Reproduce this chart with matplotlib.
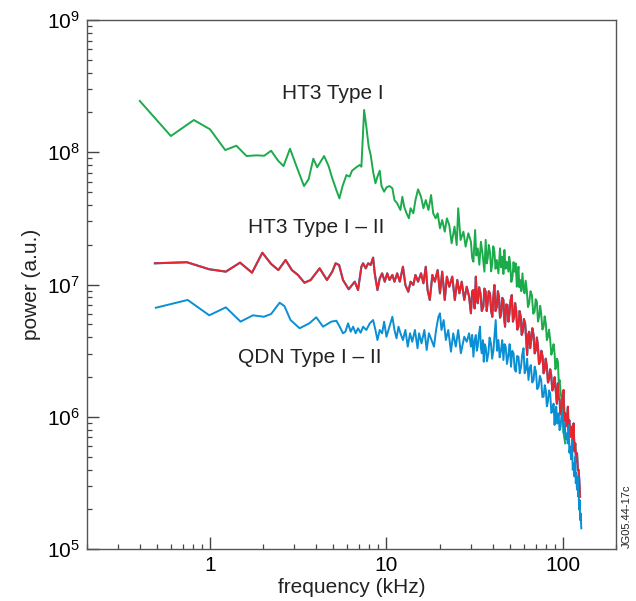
import numpy as np
import matplotlib
matplotlib.use("Agg")
import matplotlib.pyplot as plt
from matplotlib.ticker import LogLocator, NullFormatter

plt.rcParams['font.family'] = ['Liberation Sans', 'DejaVu Sans']
plt.rcParams['mathtext.default'] = 'regular'

# HT3 Type I (green)
ht3_f = [0.40, 0.60, 0.81, 1.00, 1.22, 1.41, 1.61, 1.83, 2.03, 2.22, 2.43, 2.61, 2.84, 3.12, 3.41,
         3.62, 3.85, 4.05, 4.43, 4.70, 4.91, 5.20, 5.41, 5.64, 5.93, 6.18, 6.38, 6.75, 7.05, 7.21,
         7.47, 7.69, 7.93, 8.14, 8.40, 8.66, 8.89, 9.16, 9.37, 9.70, 10.0, 10.4, 10.8, 11.1, 11.5,
         12.0, 12.3, 12.6, 13.0, 13.4, 13.7, 14.2, 14.6, 15.1, 15.7, 16.2, 16.7, 17.3, 17.9, 18.4,
         19.0, 19.5, 20.1, 20.7, 21.4, 22.0, 22.7, 23.4, 24.3, 25.0, 25.5, 26.3, 27.3, 28.1, 29.1,
         30.1, 30.6, 31.1, 31.8, 32.3, 32.9, 33.6, 34.3, 35.0, 35.9, 36.5, 37.0, 37.5, 38.0, 38.6,
         39.2, 39.8, 40.3, 40.9, 41.5, 42.2, 43.1, 44.0, 44.7, 45.4, 46.0, 46.6, 47.3, 48.1, 49.1,
         49.6, 50.1, 51.0, 51.8, 52.5, 53.2, 54.0, 54.8, 55.4, 56.0, 56.6, 57.2, 58.1, 59.0, 59.8,
         60.6, 61.5, 62.4, 63.4, 64.4, 65.5, 66.7, 67.9, 69.1, 70.1, 71.2, 72.2, 73.3, 74.3, 75.3,
         76.5, 77.7, 78.8, 80.0, 81.1, 82.2, 83.4, 84.7, 86.0, 87.4, 88.5, 89.7, 90.6, 91.6, 92.6,
         93.7, 94.8, 95.8, 96.8, 97.8, 98.7, 99.6, 100.3, 100.9, 103.0]
ht3_logp = [8.388, 8.123, 8.244, 8.174, 8.017, 8.050, 7.972, 7.977, 7.974, 8.012, 7.937, 7.896, 8.027, 7.879, 7.745,
            7.796, 7.952, 7.887, 7.972, 7.896, 7.811, 7.715, 7.652, 7.745, 7.828, 7.816, 7.861, 7.887, 7.904, 7.891,
            8.320, 8.194, 8.042, 7.980, 7.853, 7.766, 7.816, 7.861, 7.745, 7.702, 7.735, 7.745, 7.728, 7.639, 7.614,
            7.564, 7.664, 7.589, 7.539, 7.501, 7.577, 7.539, 7.639, 7.720, 7.664, 7.577, 7.639, 7.564, 7.677, 7.539,
            7.501, 7.539, 7.426, 7.488, 7.400, 7.501, 7.450, 7.312, 7.438, 7.299, 7.577, 7.337, 7.400, 7.287, 7.388,
            7.324, 7.200, 7.173, 7.413, 7.220, 7.274, 7.150, 7.324, 7.237, 7.098, 7.338, 7.160, 7.199, 7.300, 7.249,
            7.100, 7.161, 7.290, 7.249, 7.120, 7.186, 7.085, 7.274, 7.130, 7.211, 7.080, 7.262, 7.120, 7.173, 7.098,
            7.210, 7.173, 7.020, 7.060, 7.170, 7.098, 7.160, 6.984, 7.080, 7.135, 6.980, 7.035, 6.950, 7.085, 6.970,
            6.934, 7.030, 6.959, 6.830, 6.859, 6.950, 6.921, 6.780, 6.795, 6.890, 6.871, 6.720, 6.757, 6.840, 6.783,
            6.660, 6.682, 6.760, 6.707, 6.580, 6.606, 6.660, 6.581, 6.470, 6.506, 6.550, 6.481, 6.360, 6.380, 6.440,
            6.418, 6.250, 6.279, 6.200, 6.153, 6.090, 6.027, 5.950, 5.876, 5.800]

# HT3 Type I - II (red)
ht3_12_f = [0.487, 0.74, 0.99, 1.23, 1.48, 1.73, 1.98, 2.22, 2.44, 2.68, 2.91, 3.15, 3.43, 3.72, 4.18,
            4.60, 4.93, 5.15, 5.39, 5.67, 6.11, 6.61, 6.90, 7.21, 7.37, 7.63, 7.87, 8.14, 8.40, 8.58,
            8.89, 9.16, 9.45, 9.78, 10.1, 10.4, 10.8, 11.1, 11.5, 11.9, 12.4, 12.8, 13.3, 13.7, 14.2,
            14.6, 15.1, 15.7, 16.2, 16.7, 17.1, 17.6, 18.2, 18.8, 19.5, 20.1, 20.7, 21.4, 22.0, 22.7,
            23.6, 24.4, 25.2, 25.9, 26.7, 27.6, 28.5, 29.4,
            30.1, 30.6, 31.1, 31.6, 32.1, 32.5, 32.9, 33.5, 34.1, 34.7, 35.4, 35.9, 36.5, 37.0, 37.5,
            38.0, 38.6, 39.2, 39.8, 40.3, 40.9, 41.5, 42.2, 42.8, 43.4, 44.0, 44.6, 45.3, 46.0, 46.5,
            47.0, 47.7, 48.5, 49.1, 49.8, 50.5, 51.3, 52.1, 52.9, 53.6, 54.3, 55.1, 56.0, 56.8, 57.7,
            58.4, 59.2, 60.1, 61.1, 61.9, 62.7, 63.5, 64.4, 65.2, 66.1, 67.1, 68.2, 69.2, 70.3, 71.2,
            72.1, 73.2, 74.3, 75.5, 76.7, 77.7, 78.7, 79.9, 81.1, 82.3, 83.6, 84.7, 85.8, 87.1, 88.5,
            89.8, 91.2, 92.4, 93.7, 94.7, 95.8, 96.8, 97.8, 99.3, 100.9, 102.0, 103.1, 104.9, 106.7, 107.6,
            108.6, 110.5, 112.5, 113.7, 115.0, 116.2, 117.5, 118.8, 120.2, 121.6, 122.7, 123.8, 125.0]
ht3_12_logp = [7.161, 7.169, 7.116, 7.098, 7.166, 7.090, 7.241, 7.156, 7.110, 7.186, 7.110, 7.073, 7.014, 7.035, 7.123,
               7.035, 7.098, 7.161, 7.148, 7.035, 6.965, 7.022, 6.959, 7.135, 7.161, 7.123, 7.161, 7.148, 7.204, 7.085,
               6.959, 7.047, 7.085, 7.022, 7.085, 7.035, 7.073, 7.022, 7.085, 7.022, 7.135, 6.997, 6.946, 7.022, 6.997,
               7.073, 7.022, 7.085, 7.010, 7.135, 6.959, 6.884, 7.073, 7.022, 7.110, 6.934, 7.098, 6.884, 7.060, 6.984,
               7.060, 6.884, 7.035, 6.934, 7.022, 6.884, 6.984, 6.908,
               6.783, 6.950, 6.959, 6.820, 7.060, 6.900, 6.859, 6.980, 6.934, 6.800, 6.833, 6.970, 6.946, 6.800, 6.871,
               6.950, 6.934, 6.800, 6.757, 6.900, 6.997, 6.800, 6.833, 6.950, 6.908, 6.750, 6.770, 6.900, 6.884, 6.740,
               6.682, 6.850, 6.846, 6.720, 6.783, 6.880, 6.921, 6.720, 6.757, 6.860, 6.808, 6.660, 6.682, 6.800, 6.757,
               6.620, 6.644, 6.740, 6.707, 6.580, 6.468, 6.620, 6.644, 6.520, 6.581, 6.670, 6.619, 6.480, 6.506, 6.600,
               6.543, 6.400, 6.417, 6.500, 6.455, 6.330, 6.354, 6.440, 6.379, 6.260, 6.292, 6.360, 6.317, 6.200, 6.228,
               6.300, 6.190, 6.100, 6.254, 6.140, 6.128, 6.020, 6.052, 6.120, 6.203, 5.970, 6.027, 5.930, 6.077, 5.900,
               5.977, 5.850, 5.926, 5.820, 5.951, 5.740, 5.800, 5.660, 5.725, 5.599, 5.600, 5.523, 5.397]

# QDN Type I - II (blue)
qdn_f = [0.493, 0.747, 0.99, 1.23, 1.49, 1.75, 2.02, 2.22, 2.48, 2.64, 2.86, 3.22, 3.66, 4.00, 4.37,
         4.87, 5.20, 5.43, 5.67, 5.85, 6.06, 6.27, 6.47, 6.69, 6.90, 7.14, 7.37, 7.69, 8.04, 8.40,
         8.66, 8.89, 9.16, 9.45, 9.70, 10.0, 10.4, 10.8, 11.1, 11.4, 11.7, 12.0, 12.4, 12.8, 13.2,
         13.6, 14.0, 14.5, 15.0, 15.3, 15.8, 16.4, 16.9, 17.4, 18.0, 18.6, 19.1, 19.7, 20.1, 20.5,
         21.1, 21.7, 22.4, 23.2, 23.9, 24.7, 25.5, 26.4, 27.6, 28.5, 29.4,
         30.1, 30.6, 31.1, 31.6, 32.1, 32.5, 32.9, 33.4, 33.9, 34.3, 34.7, 35.2, 35.6, 36.0, 36.5,
         37.1, 37.8, 38.4, 39.1, 39.7, 40.4, 41.0, 41.6, 42.3, 43.1, 43.8, 44.6, 45.3, 46.0, 46.7,
         47.4, 48.2, 49.1, 49.9, 50.8, 51.6, 52.5, 53.3, 54.1, 55.0, 56.0, 56.9, 57.9, 58.8, 59.8,
         60.7, 61.6, 62.7, 63.8, 64.8, 65.8, 67.0, 68.2, 69.2, 70.3, 71.5, 72.8, 74.0, 75.3, 76.5,
         77.7, 78.9, 80.0, 81.1, 82.2, 83.4, 84.7, 86.0, 87.4, 88.5, 89.7, 90.6, 91.6, 93.0, 94.5,
         95.7, 97.0, 98.3, 99.6, 101.0, 102.3, 103.8, 105.4, 106.5, 107.7, 108.8, 110.0, 111.2, 112.5, 113.7,
         115.0, 116.2, 117.5, 118.3, 119.0, 120.1, 121.2, 122.0, 122.8, 123.6, 124.4, 125.2, 126.0, 126.6, 127.1]
qdn_logp = [6.825, 6.884, 6.768, 6.828, 6.720, 6.768, 6.757, 6.778, 6.863, 6.838, 6.732, 6.670, 6.708, 6.753, 6.682,
            6.720, 6.727, 6.682, 6.632, 6.644, 6.707, 6.644, 6.682, 6.632, 6.670, 6.636, 6.682, 6.657, 6.707, 6.732,
            6.657, 6.581, 6.657, 6.632, 6.720, 6.606, 6.682, 6.757, 6.657, 6.594, 6.682, 6.632, 6.581, 6.657, 6.531,
            6.632, 6.568, 6.657, 6.519, 6.632, 6.556, 6.657, 6.506, 6.632, 6.581, 6.531, 6.657, 6.757, 6.783, 6.657,
            6.732, 6.581, 6.657, 6.493, 6.632, 6.531, 6.657, 6.481, 6.606, 6.568, 6.632,
            6.531, 6.620, 6.455, 6.580, 6.619, 6.500, 6.531, 6.620, 6.682, 6.520, 6.481, 6.580, 6.417, 6.550, 6.531,
            6.420, 6.481, 6.600, 6.556, 6.440, 6.506, 6.620, 6.732, 6.500, 6.581, 6.450, 6.506, 6.580, 6.430, 6.550,
            6.531, 6.400, 6.468, 6.550, 6.379, 6.500, 6.481, 6.360, 6.342, 6.460, 6.455, 6.330, 6.379, 6.470, 6.519,
            6.330, 6.354, 6.440, 6.279, 6.370, 6.392, 6.260, 6.279, 6.380, 6.342, 6.210, 6.228, 6.310, 6.279, 6.150,
            6.153, 6.240, 6.203, 6.080, 6.115, 6.200, 6.178, 6.030, 6.052, 6.100, 5.939, 6.040, 6.077, 5.950, 6.027,
            5.900, 5.926, 6.020, 6.027, 5.880, 5.952, 5.830, 5.876, 5.800, 5.939, 5.730, 5.775, 5.680, 5.825, 5.600,
            5.649, 5.550, 5.699, 5.500, 5.574, 5.450, 5.548, 5.400, 5.423, 5.300, 5.372, 5.220, 5.271, 5.200, 5.158]

green = '#1bab4b'
red = '#e8252e'
blue = '#0a8fd4'

fig = plt.figure(figsize=(6.36, 6.01), dpi=100)
ax = fig.add_axes([0.1363, 0.0862, 0.8323, 0.8805])

ax.loglog(ht3_f, 10 ** np.array(ht3_logp), color=green, lw=1.4)
ax.loglog(ht3_12_f, 10 ** np.array(ht3_12_logp), color=blue, lw=1.55)
ax.loglog(ht3_12_f, 10 ** np.array(ht3_12_logp), color=red, lw=1.4)
ax.loglog(qdn_f, 10 ** np.array(qdn_logp), color=blue, lw=1.4)

ax.set_xlim(0.2, 200)
ax.set_ylim(1e5, 1e9)

ax.xaxis.set_minor_locator(LogLocator(base=10, subs=np.arange(2, 10), numticks=20))
ax.xaxis.set_minor_formatter(NullFormatter())
ax.yaxis.set_minor_locator(LogLocator(base=10, subs=np.arange(2, 10), numticks=20))
ax.yaxis.set_minor_formatter(NullFormatter())
ax.set_xticks([1, 10, 100])
ax.set_xticklabels(['1', '10', '100'])

ax.tick_params(which='both', direction='in', top=False, right=False, color='#444444')
ax.tick_params(which='major', length=8.5, width=1.0, labelsize=15, pad=5)
ax.tick_params(which='minor', length=3.8, width=0.9)
for s in ax.spines.values():
    s.set_color('#555555')
    s.set_linewidth(1.0)

ax.set_xlabel('frequency (kHz)', fontsize=15, labelpad=2, color='#222222')
ax.set_ylabel('power (a.u.)', fontsize=15, labelpad=4, color='#222222')

ax.text(0.465, 0.862, 'HT3 Type I', transform=ax.transAxes, ha='center', va='center', fontsize=15, color='#222222')
ax.text(0.433, 0.607, 'HT3 Type I \u2013 II', transform=ax.transAxes, ha='center', va='center', fontsize=15, color='#222222')
ax.text(0.422, 0.363, 'QDN Type I \u2013 II', transform=ax.transAxes, ha='center', va='center', fontsize=15, color='#222222')

fig.text(0.985, 0.0885, 'JG05.44-17c', rotation=90, ha='center', va='bottom', fontsize=8, color='#222222')

fig.savefig('out.png', dpi=100)
